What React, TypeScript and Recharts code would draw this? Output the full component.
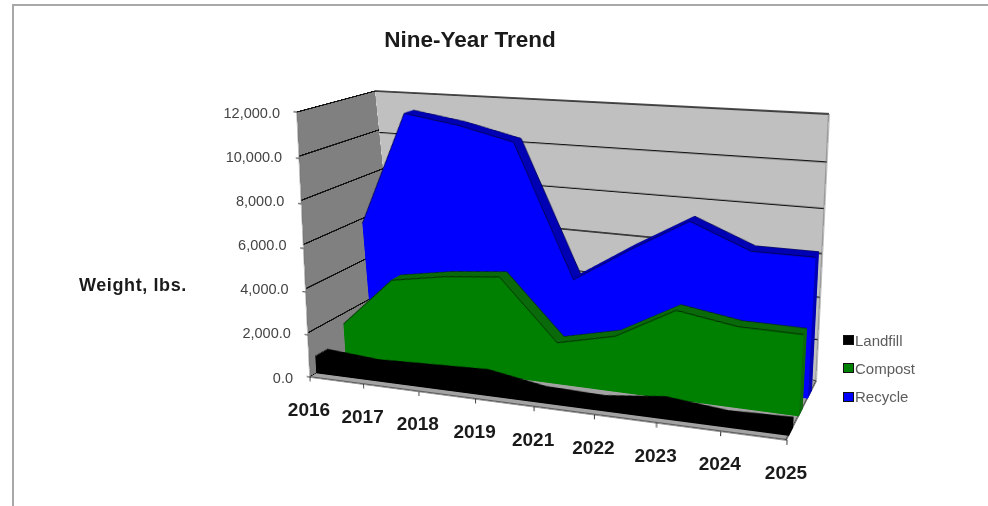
import React from "react";
import { AreaChart, Area, XAxis, YAxis, CartesianGrid, Legend } from "recharts";

const years = ["2016", "2017", "2018", "2019", "2021", "2022", "2023", "2024", "2025"];
const landfill = [850, 660, 760, 860, 420, 350, 660, 400, 480];
const compost = [1600, 4040, 4480, 4740, 1970, 2600, 4080, 3660, 3640];
const recycle = [5980, 11400, 11000, 10400, 4280, 5950, 7480, 6400, 6400];
const yTicks = [0, 2000, 4000, 6000, 8000, 10000, 12000];
const rows = years.map((year, i) => ({
  year,
  Landfill: landfill[i],
  Compost: compost[i],
  Recycle: recycle[i],
}));

type P = [number, number];
type Quad = [P, P, P, P]; // TL, TR, BR, BL

const W = 520;
const H = 300;
const M = 10;
const SANS = "'Liberation Sans', Arial, sans-serif";

const FRONT: Quad = [[297, 112], [805, 143], [787, 440], [310, 377]];
const BACK: Quad = [[375, 91], [830, 114], [817, 381], [399, 324]];
const lerp = (a: P, b: P, t: number): P => [a[0] + (b[0] - a[0]) * t, a[1] + (b[1] - a[1]) * t];
const planeAt = (w: number): Quad =>
  [0, 1, 2, 3].map((i) => lerp(FRONT[i], BACK[i], w)) as Quad;
const FLOOR: Quad = [BACK[3], BACK[2], FRONT[2], FRONT[3]];

function homography(q: Quad) {
  const [[x0, y0], [x1, y1], [x2, y2], [x3, y3]] = q;
  const dx1 = x1 - x2, dx2 = x3 - x2, sx = x0 - x1 + x2 - x3;
  const dy1 = y1 - y2, dy2 = y3 - y2, sy = y0 - y1 + y2 - y3;
  const det = dx1 * dy2 - dx2 * dy1;
  const g = (sx * dy2 - dx2 * sy) / det;
  const h = (dx1 * sy - sx * dy1) / det;
  return { a: x1 - x0 + g * x1, b: x3 - x0 + h * x3, c: x0, d: y1 - y0 + g * y1, e: y3 - y0 + h * y3, f: y0, g, h };
}
function project(q: Quad, u: number, v: number): P {
  const { a, b, c, d, e, f, g, h } = homography(q);
  const k = g * u + h * v + 1;
  return [(a * u + b * v + c) / k, (d * u + e * v + f) / k];
}
function matrix(q: Quad) {
  const { a, b, c, d, e, f, g, h } = homography(q);
  const sw = W - 2 * M, sh = H - 2 * M;
  const A = a / sw, B = b / sh, C = c - (a * M) / sw - (b * M) / sh;
  const D = d / sw, E = e / sh, F = f - (d * M) / sw - (e * M) / sh;
  const G = g / sw, HH = h / sh, I = 1 - (g * M) / sw - (h * M) / sh;
  return `matrix3d(${[A, D, 0, G, B, E, 0, HH, 0, 0, 1, 0, C, F, 0, I].join(",")})`;
}

const margin = { top: M, right: M, bottom: M, left: M };

function Plane({ quad, children, m = margin }: { quad: Quad; children: React.ReactNode; m?: typeof margin }) {
  return (
    <div style={{ position: "absolute", left: 0, top: 0, width: W, height: H, transformOrigin: "0 0", transform: matrix(quad) }}>
      <AreaChart width={W} height={H} data={rows} margin={m}>
        {children}
      </AreaChart>
    </div>
  );
}

const xHidden = <XAxis dataKey="year" hide scale="point" padding={{ left: 0, right: 0 }} />;
const yHidden = <YAxis hide domain={[0, 12000]} ticks={yTicks} />;
// An unpainted series: it only makes the axes and the grid of an otherwise empty plane resolve.
const carrier = <Area dataKey="Recycle" fill="none" stroke="none" isAnimationActive={false} dot={false} activeDot={false} legendType="none" />;
const NoLabel = () => <g />;

function Series({ name, color, dark, edge, front, back }: { name: string; color: string; dark: string; edge: string; front: number; back: number }) {
  const steps = [1, 0.875, 0.75, 0.625, 0.5, 0.375, 0.25, 0.125];
  return (
    <>
      {steps.map((s) => (
        <Plane key={s} quad={planeAt(front + (back - front) * s)}>
          {xHidden}
          {yHidden}
          <Area dataKey={name} type="linear" isAnimationActive={false} fill={dark} fillOpacity={1} stroke={s === 1 ? edge : dark} strokeWidth={1} dot={false} activeDot={false} />
        </Plane>
      ))}
      <Plane quad={planeAt(front)}>
        {xHidden}
        {yHidden}
        <Area dataKey={name} type="linear" isAnimationActive={false} fill={color} fillOpacity={1} stroke={edge} strokeWidth={1} dot={false} activeDot={false} />
      </Plane>
    </>
  );
}

// The side wall, one band per axis step so that its gridlines keep even spacing.
function WallBand({ lo, hi }: { lo: number; hi: number }) {
  const t0 = 1 - hi / 12000;
  const t1 = 1 - lo / 12000;
  const quad: Quad = [
    lerp(FRONT[0], FRONT[3], t0),
    lerp(BACK[0], BACK[3], t0),
    lerp(BACK[0], BACK[3], t1),
    lerp(FRONT[0], FRONT[3], t1),
  ];
  return (
    <Plane quad={quad}>
      {xHidden}
      <YAxis hide domain={[lo, hi]} ticks={[lo, hi]} allowDataOverflow />
      <CartesianGrid vertical={false} fill="#808080" fillOpacity={1} stroke="#111" strokeWidth={9} />
    </Plane>
  );
}

const legendItems = [
  { name: "Landfill", color: "#000000" },
  { name: "Compost", color: "#008000" },
  { name: "Recycle", color: "#0000ff" },
];

function LegendBox() {
  return (
    <div style={{ fontFamily: SANS, fontSize: 15, color: "#5c5c5c" }}>
      {legendItems.map((it) => (
        <div key={it.name} style={{ display: "flex", alignItems: "center", height: 28.3 }}>
          <span style={{ width: 9, height: 8, background: it.color, border: "1px solid #111", marginRight: 1 }} />
          {it.name}
        </div>
      ))}
    </div>
  );
}

function YTick(props: any) {
  const t = 1 - props.payload.value / 12000;
  const [x, y] = lerp(FRONT[0], FRONT[3], t);
  return (
    <text x={x - 17} y={y + 0.5} textAnchor="end" dominantBaseline="central" fontFamily={SANS} fontSize={14.5} fill="#444">
      {Number(props.payload.value).toLocaleString("en-US", { minimumFractionDigits: 1, maximumFractionDigits: 1 })}
    </text>
  );
}
function XTick(props: any) {
  const i = props.index;
  const [x, y] = project(FRONT, i / (years.length - 1), 1);
  return (
    <text x={x - 1} y={y + 32.5} textAnchor="middle" dominantBaseline="central" fontFamily={SANS} fontWeight="bold" fontSize={19} fill="#1a1a1a">
      {props.payload.value}
    </text>
  );
}

export default function App() {
  return (
    <div style={{ position: "absolute", left: 0, top: 0, width: 988, height: 506, overflow: "hidden", background: "#fff", filter: "blur(0.35px)" }}>
      <div style={{ position: "absolute", left: 12, top: 4, width: 974, height: 500, borderLeft: "2px solid #a8a8a8", borderTop: "2px solid #a8a8a8", borderRight: "1px solid #c8c8c8", borderBottom: "1px solid #dddddd" }} />

      {yTicks.slice(0, -1).map((lo, i) => (
        <WallBand key={lo} lo={lo} hi={yTicks[i + 1]} />
      ))}
      <Plane quad={BACK}>
        {xHidden}
        {yHidden}
        <CartesianGrid vertical={false} fill="#c0c0c0" fillOpacity={1} stroke="#111" strokeWidth={1.3} />
        <YAxis yAxisId="edge" orientation="right" width={1} domain={[0, 12000]} tick={false} tickLine={false} axisLine={{ stroke: "#777", strokeWidth: 1 }} />
        {carrier}
      </Plane>
      <Plane quad={FLOOR}>
        {xHidden}
        {yHidden}
        <CartesianGrid vertical={false} horizontal={false} fill="#a3a3a3" fillOpacity={1} />
        <YAxis yAxisId="edge" orientation="right" width={1} domain={[0, 12000]} tick={false} tickLine={false} axisLine={{ stroke: "#222", strokeWidth: 1.2 }} />
        {carrier}
      </Plane>

      <Series name="Recycle" color="#0000ff" dark="#0000b4" edge="#000050" front={0.7} back={0.83} />
      <Series name="Compost" color="#008000" dark="#0a6a0a" edge="#002800" front={0.4} back={0.52} />
      <Series name="Landfill" color="#000000" dark="#000000" edge="#000000" front={0.07} back={0.2} />

      <Plane quad={FRONT} m={{ top: M, right: M, bottom: M - 1, left: M - 1 }}>
        <XAxis dataKey="year" scale="point" padding={{ left: 0, right: 0 }} height={1} tick={<NoLabel />} tickSize={5} tickLine={{ stroke: "#333" }} axisLine={{ stroke: "#222", strokeWidth: 1.2 }} interval={0} />
        <YAxis domain={[0, 12000]} ticks={yTicks} width={1} tick={<NoLabel />} tickSize={4} tickLine={{ stroke: "#333" }} axisLine={{ stroke: "#777" }} interval={0} />
        {carrier}
      </Plane>

      <div style={{ position: "absolute", left: 0, top: 0 }}>
        <AreaChart width={988} height={506} data={rows} margin={{ top: 113, right: 200, bottom: 130, left: 310 }}>
          <XAxis dataKey="year" scale="point" padding={{ left: 0, right: 0 }} height={1} axisLine={false} tickLine={false} tick={<XTick />} interval={0} />
          <YAxis domain={[0, 12000]} ticks={yTicks} width={1} axisLine={false} tickLine={false} tick={<YTick />} interval={0} />
          {carrier}
          <Legend content={<LegendBox />} layout="vertical" align="left" verticalAlign="top" wrapperStyle={{ position: "absolute", left: 843, top: 326, width: 100 }} />
        </AreaChart>
      </div>

      <div style={{ position: "absolute", left: 350, width: 240, top: 27, textAlign: "center", fontFamily: SANS, fontWeight: "bold", fontSize: 22.5, color: "#1a1a1a", whiteSpace: "nowrap" }}>
        Nine-Year Trend
      </div>
      <div style={{ position: "absolute", left: 79, top: 275, fontFamily: SANS, fontWeight: "bold", fontSize: 18, letterSpacing: 0.6, color: "#1a1a1a", whiteSpace: "nowrap" }}>
        Weight, lbs.
      </div>
    </div>
  );
}
